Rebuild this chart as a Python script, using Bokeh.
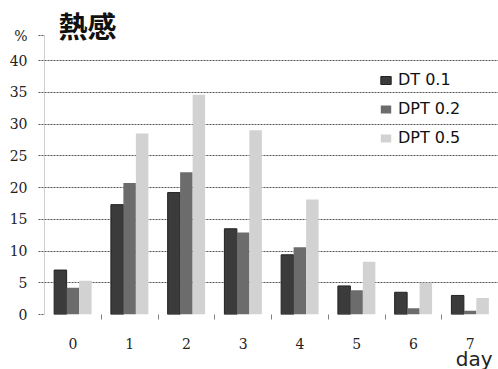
from bokeh.plotting import figure
from bokeh.models import (ColumnDataSource, FixedTicker, Legend, LegendItem,
                          Label, Title, Range1d)
from bokeh.transform import dodge
from bokeh.embed import file_html
from bokeh.resources import INLINE

# --- data -------------------------------------------------------------
days = [0, 1, 2, 3, 4, 5, 6, 7]
day_labels = ["0", "1", "2", "3", "4", "5", "6", "7"]
dt_01 = [7.0, 17.3, 19.2, 13.5, 9.4, 4.5, 3.5, 3.0]
dpt_02 = [4.2, 20.7, 22.4, 12.9, 10.6, 3.8, 1.0, 0.6]
dpt_05 = [5.3, 28.5, 34.6, 29.0, 18.1, 8.3, 5.0, 2.6]
series_names = ["DT 0.1", "DPT 0.2", "DPT 0.5"]
y_ticks = [0, 5, 10, 15, 20, 25, 30, 35, 40]
unit_level = 43.9          # height of the "%" unit mark above the 40 line

source = ColumnDataSource(dict(day=days, dt01=dt_01, dpt02=dpt_02, dpt05=dpt_05))

# the frame runs up to the top edge so the heading can sit inside it
p = figure(width=498, height=369, output_backend="svg", toolbar_location=None,
           title=None, x_range=Range1d(-0.5, 7.5), y_range=Range1d(0, 49.45),
           min_border_left=44, min_border_right=0, min_border_top=0,
           min_border_bottom=55)
p.outline_line_color = None
p.background_fill_color = "white"
p.border_fill_color = "white"

# --- bars -------------------------------------------------------------
bw = 0.22
colors = ["#3b3b3b", "#6c6c6c", "#d2d2d2"]
r1 = p.vbar(x=dodge("day", -bw, range=p.x_range), top="dt01", width=bw,
            source=source, fill_color=colors[0], line_color="#222222")
r2 = p.vbar(x=dodge("day", 0.0, range=p.x_range), top="dpt02", width=bw,
            source=source, fill_color=colors[1], line_color=None)
r3 = p.vbar(x=dodge("day", bw, range=p.x_range), top="dpt05", width=bw,
            source=source, fill_color=colors[2], line_color=None)

# --- grid & axes ------------------------------------------------------
p.xgrid.grid_line_color = None
p.ygrid.ticker = FixedTicker(ticks=y_ticks)
p.ygrid.grid_line_color = "#555555"
p.ygrid.grid_line_dash = "2 1"
p.ygrid.grid_line_width = 1

ya = p.yaxis[0]
ya.ticker = FixedTicker(ticks=y_ticks + [unit_level])
ya.major_label_overrides = {unit_level: "%"}
ya.bounds = (0, unit_level)
ya.axis_line_color = "#a0a0a0"
ya.axis_line_dash = "1 1"
ya.major_tick_out = 6
ya.major_tick_in = 0
ya.major_tick_line_color = "#555555"
ya.major_tick_line_dash = "2 1"
ya.minor_tick_line_color = None
ya.major_label_standoff = 11
ya.major_label_text_font = "DejaVu Serif"
ya.major_label_text_font_size = "14px"
ya.major_label_text_color = "#222222"

xa = p.xaxis[0]
xa.ticker = FixedTicker(ticks=days, minor_ticks=[d + 0.5 for d in days[:-1]])
xa.major_label_overrides = {d: s for d, s in zip(days, day_labels)}
xa.axis_line_color = None
xa.major_tick_line_color = None
xa.minor_tick_out = 5
xa.minor_tick_in = 0
xa.minor_tick_line_color = "#808080"
xa.major_label_standoff = 17
xa.major_label_text_font = "DejaVu Serif"
xa.major_label_text_font_size = "14px"
xa.major_label_text_color = "#222222"

# --- legend -----------------------------------------------------------
legend = Legend(items=[LegendItem(label=series_names[0], renderers=[r1]),
                       LegendItem(label=series_names[1], renderers=[r2]),
                       LegendItem(label=series_names[2], renderers=[r3])],
                location=(335, 167), padding=0, margin=0, spacing=10,
                glyph_width=13, glyph_height=10, label_standoff=6,
                label_text_font="DejaVu Sans", label_text_font_size="16px",
                label_text_color="#111111",
                background_fill_alpha=0, border_line_color=None)
p.add_layout(legend)

# --- heading and axis name --------------------------------------------
p.add_layout(Label(x=0.259, y=45.6, text="熱感", text_align="center",
                   text_baseline="middle", text_font="Noto Sans CJK JP",
                   text_font_style="bold", text_font_size="29px",
                   text_color="#111111"))
p.add_layout(Title(text="day", align="right", offset=6, standoff=-14,
                   text_font="DejaVu Sans", text_font_style="normal",
                   text_font_size="20px", text_color="#222222"), "below")

open("out.html", "w").write(file_html(p, INLINE))
